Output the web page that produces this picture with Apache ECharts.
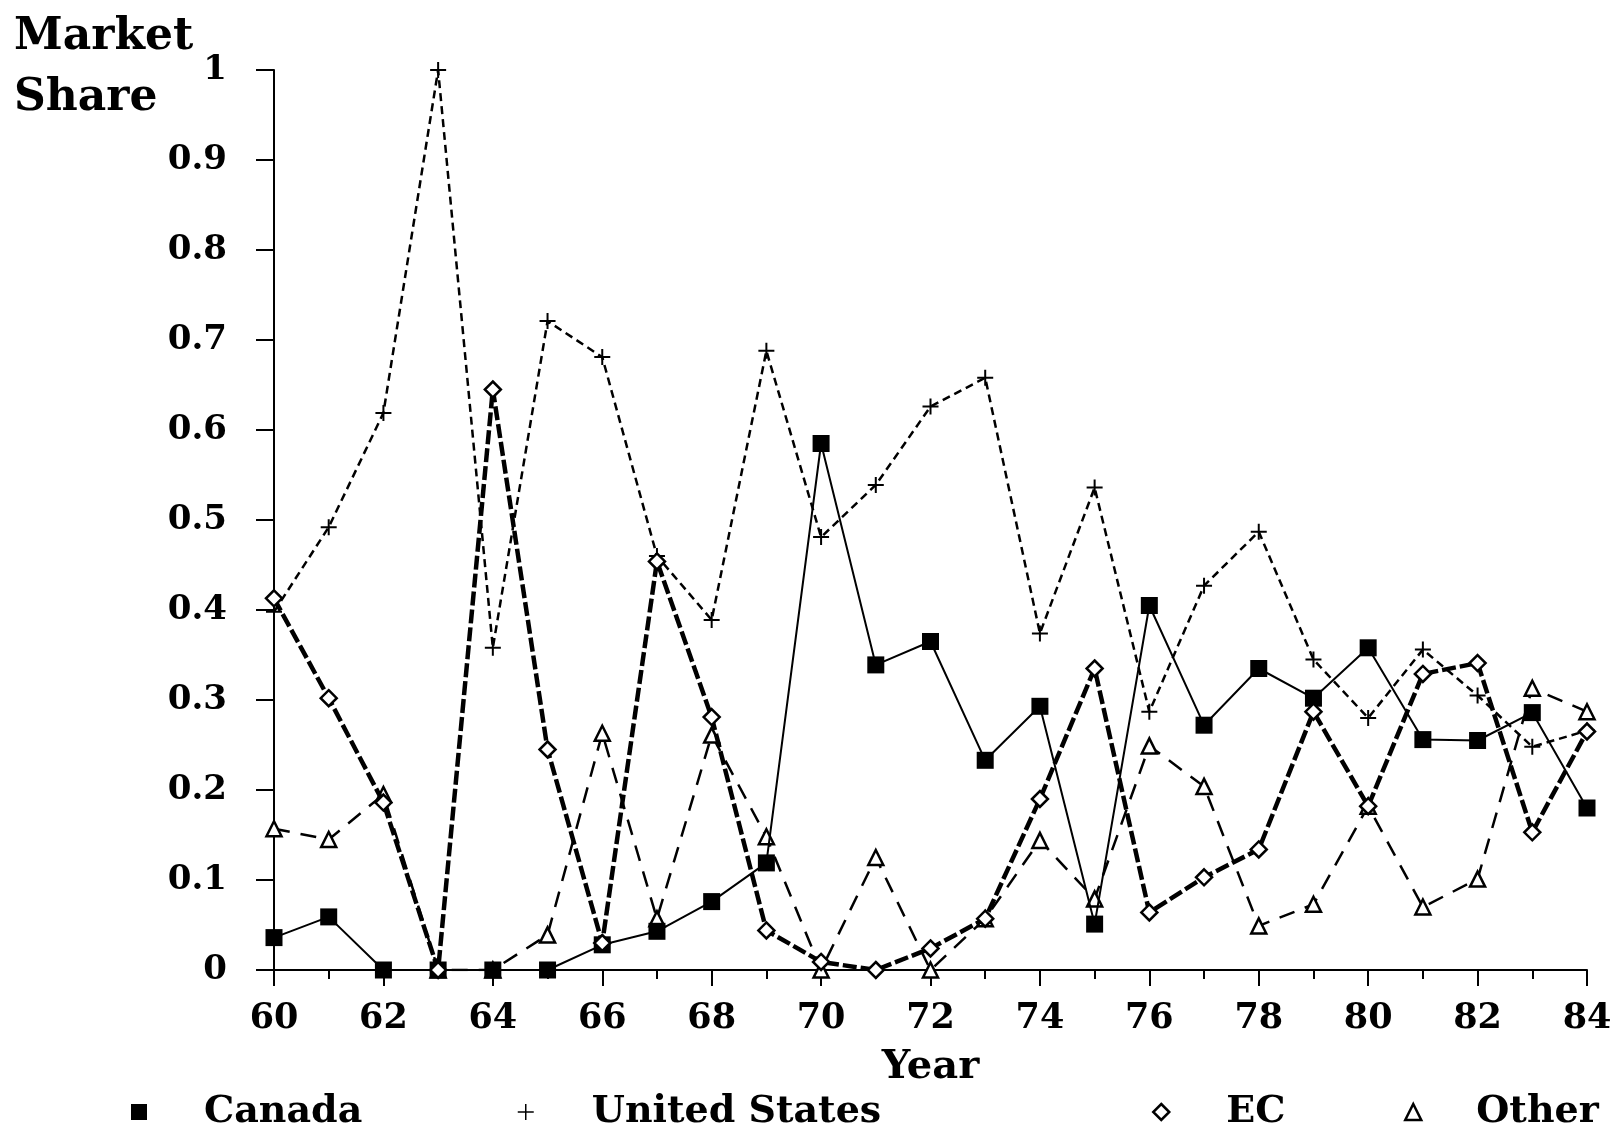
<!DOCTYPE html>
<html>
<head>
<meta charset="utf-8">
<script src="https://cdn.jsdelivr.net/npm/echarts@6/dist/echarts.min.js"></script>
<style>
html,body{margin:0;padding:0;background:#fff;}
#chart{width:1616px;height:1132px;}
</style>
</head>
<body>
<div id="chart"></div>
<script>
const years = [60,61,62,63,64,65,66,67,68,69,70,71,72,73,74,75,76,77,78,79,80,81,82,83,84];
const canada = [0.036,0.059,0,0,0,0,0.028,0.043,0.076,0.119,0.585,0.339,0.365,0.233,0.293,0.051,0.405,0.272,0.335,0.302,0.358,0.256,0.255,0.286,0.18];
const unitedStates = [0.398,0.492,0.619,1.0,0.358,0.721,0.681,0.46,0.389,0.688,0.481,0.539,0.626,0.658,0.374,0.536,0.287,0.427,0.487,0.345,0.28,0.356,0.305,0.248,0.266];
const ec = [0.413,0.302,0.186,0,0.645,0.245,0.03,0.454,0.281,0.044,0.009,0,0.024,0.057,0.19,0.335,0.064,0.103,0.134,0.287,0.182,0.329,0.341,0.153,0.265];
const other = [0.157,0.145,0.195,0,0,0.039,0.263,0.057,0.261,0.148,0,0.125,0,0.057,0.144,0.079,0.249,0.204,0.049,0.073,0.182,0.07,0.101,0.313,0.287];
const seriesNames = ['Canada','United States','EC','Other'];
const yAxisTitle = 'Market\nShare';
const xAxisTitle = 'Year';

const FONT = 'DejaVu Serif';
const pair = arr => years.map((y,i)=>[y,arr[i]]);
const plusPath = 'path://M0,10 L20,10 M10,0 L10,20';

const chart = echarts.init(document.getElementById('chart'), null, {renderer:'canvas'});

function legendAt(name, left, pad, icon, itemStyle){
  return {
    data:[{name:name, icon:icon, itemStyle:itemStyle}],
    left:left, top:1088, orient:'horizontal',
    itemWidth:16, itemHeight:16, itemGap:5,
    selectedMode:false,
    textStyle:{fontFamily:FONT, fontWeight:'bold', fontSize:38, color:'#000', padding:[0,0,0,pad]}
  };
}

chart.setOption({
  backgroundColor:'#fff',
  animation:false,
  title:{
    text:yAxisTitle, left:9, top:2,
    textStyle:{fontFamily:FONT, fontWeight:'bold', fontSize:44, lineHeight:61, color:'#000'}
  },
  grid:{left:274, right:29, top:70, bottom:162, containLabel:false, outerBoundsMode:'none'},
  xAxis:{
    type:'value', min:60, max:84, interval:2,
    name:xAxisTitle, nameLocation:'middle', nameGap:78,
    nameTextStyle:{fontFamily:FONT, fontWeight:'bold', fontSize:40, color:'#000'},
    axisLine:{show:true, onZero:false, lineStyle:{color:'#000', width:2}},
    axisTick:{show:true, inside:false, length:16, lineStyle:{color:'#000', width:2}},
    minorTick:{show:true, splitNumber:2, length:9, lineStyle:{color:'#000', width:2}},
    splitLine:{show:false},
    axisLabel:{margin:31, fontFamily:FONT, fontWeight:'bold', fontSize:35, color:'#000'}
  },
  yAxis:{
    type:'value', min:0, max:1, interval:0.1,
    axisLine:{show:true, lineStyle:{color:'#000', width:2}},
    axisTick:{show:true, inside:false, length:18, lineStyle:{color:'#000', width:2}},
    splitLine:{show:false},
    axisLabel:{margin:47, fontFamily:FONT, fontWeight:'bold', fontSize:34, color:'#000'}
  },
  legend:[
    legendAt('Canada', 126, 52, 'rect', {color:'#000'}),
    legendAt('United States', 512, 53, plusPath, {color:'#000', borderColor:'#000', borderWidth:1.5}),
    legendAt('EC', 1147, 52, 'diamond', {color:'#fff', borderColor:'#000', borderWidth:2.5}),
    legendAt('Other', 1399, 50, 'triangle', {color:'#fff', borderColor:'#000', borderWidth:2.5})
  ],
  series:[
    {
      name:'Other', type:'line', data:pair(other),
      symbol:'triangle', symbolSize:15,
      itemStyle:{color:'#fff', borderColor:'#000', borderWidth:2.5},
      lineStyle:{color:'#000', width:2.5, type:[16,11]},
      z:2
    },
    {
      name:'United States', type:'line', data:pair(unitedStates),
      symbol:plusPath, symbolSize:16,
      itemStyle:{color:'#000', borderColor:'#000', borderWidth:2},
      lineStyle:{color:'#000', width:2.5, type:[8,5]},
      z:3
    },
    {
      name:'Canada', type:'line', data:pair(canada),
      symbol:'rect', symbolSize:17,
      itemStyle:{color:'#000', borderColor:'#000', borderWidth:0},
      lineStyle:{color:'#000', width:2},
      z:4
    },
    {
      name:'EC', type:'line', data:pair(ec),
      symbol:'diamond', symbolSize:16,
      itemStyle:{color:'#fff', borderColor:'#000', borderWidth:2.5},
      lineStyle:{color:'#000', width:4.5, type:[14,4]},
      z:5
    }
  ]
});
</script>
</body>
</html>
